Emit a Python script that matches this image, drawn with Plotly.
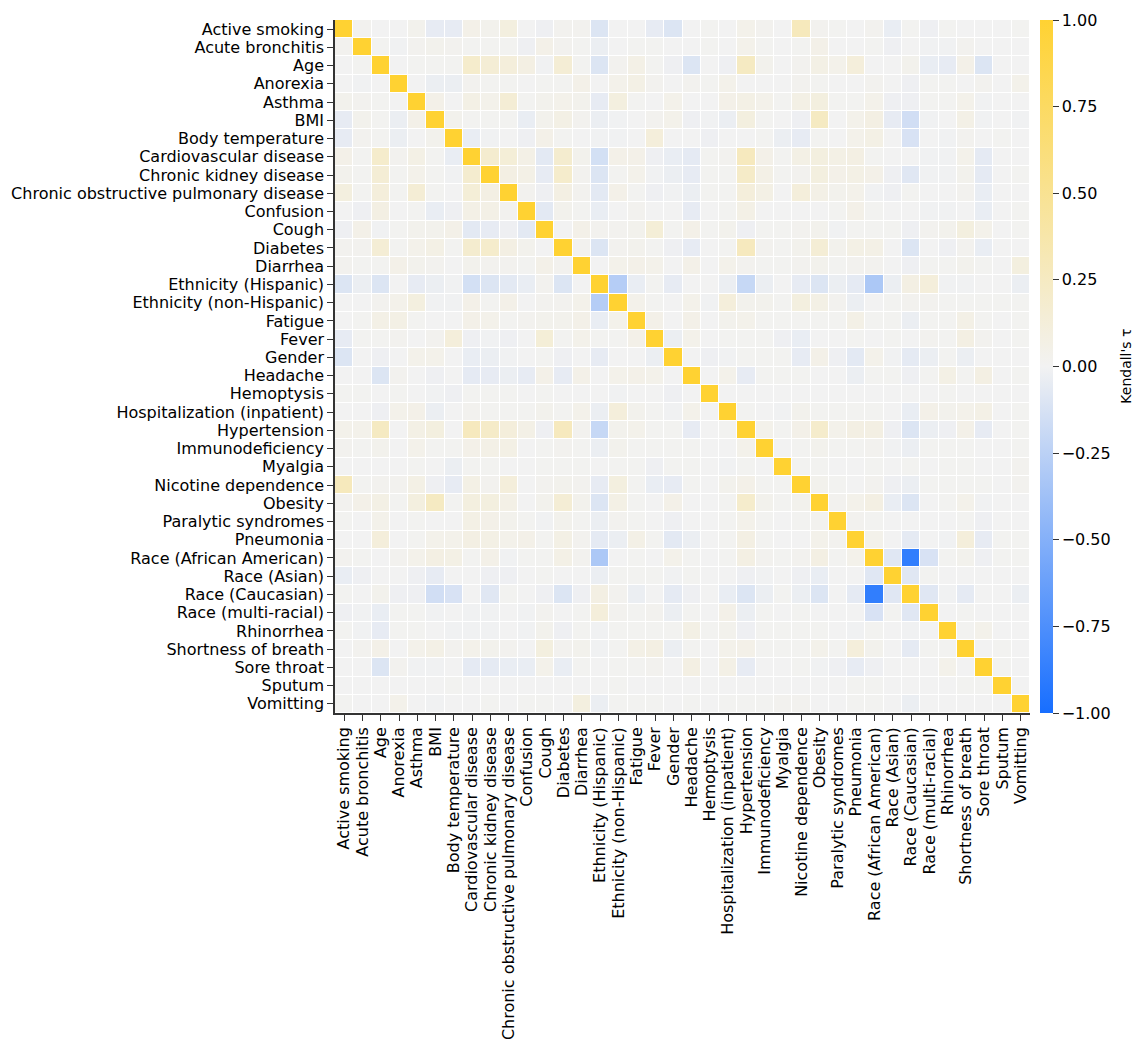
import plotly.graph_objects as go

# Variables shown on both axes
labels = [
    "Active smoking", "Acute bronchitis", "Age", "Anorexia", "Asthma", "BMI",
    "Body temperature", "Cardiovascular disease", "Chronic kidney disease",
    "Chronic obstructive pulmonary disease", "Confusion", "Cough", "Diabetes",
    "Diarrhea", "Ethnicity (Hispanic)", "Ethnicity (non-Hispanic)", "Fatigue",
    "Fever", "Gender", "Headache", "Hemoptysis", "Hospitalization (inpatient)",
    "Hypertension", "Immunodeficiency", "Myalgia", "Nicotine dependence",
    "Obesity", "Paralytic syndromes", "Pneumonia", "Race (African American)",
    "Race (Asian)", "Race (Caucasian)", "Race (multi-racial)", "Rhinorrhea",
    "Shortness of breath", "Sore throat", "Sputum", "Vomitting",
]

# Kendall's tau, lower triangle (row i holds correlations with columns 0..i-1)
tau_lower = [
    [],
    [0.02],
    [0.0, 0.01],
    [0.0, -0.01, 0.0],
    [0.03, 0.02, 0.01, 0.0],
    [-0.05, 0.03, 0.01, -0.03, 0.05],
    [-0.05, 0.02, 0.01, -0.03, 0.0, 0.03],
    [0.05, 0.01, 0.2, 0.02, 0.07, 0.01, -0.04],
    [0.03, 0.01, 0.15, 0.01, 0.04, 0.01, -0.01, 0.18],
    [0.1, 0.01, 0.12, 0.01, 0.15, 0.01, 0.0, 0.14, 0.08],
    [0.0, -0.02, 0.08, 0.0, 0.01, -0.04, -0.02, 0.06, 0.06, 0.02],
    [-0.02, 0.05, -0.01, 0.01, 0.03, 0.03, 0.05, -0.07, -0.05, -0.02, -0.07],
    [0.02, 0.02, 0.15, 0.01, 0.04, 0.07, 0.01, 0.18, 0.2, 0.08, 0.03, 0.0],
    [0.02, 0.01, 0.01, 0.05, 0.03, 0.02, 0.0, 0.03, 0.02, 0.02, 0.01, 0.05, 0.02],
    [-0.1, -0.03, -0.1, 0.0, -0.05, -0.03, -0.01, -0.14, -0.1, -0.07, -0.04, 0.02, -0.1, 0.0],
    [0.0, 0.0, 0.02, 0.04, 0.1, -0.01, -0.01, 0.05, 0.01, 0.05, 0.0, 0.02, 0.02, 0.04, -0.28],
    [0.0, 0.01, 0.06, 0.07, 0.01, 0.0, 0.0, 0.05, 0.04, 0.01, 0.02, 0.03, 0.03, 0.05, -0.04, 0.04],
    [-0.05, 0.01, 0.01, 0.02, 0.0, 0.02, 0.12, -0.02, -0.01, -0.02, 0.0, 0.14, 0.01, 0.04, 0.01, 0.01, 0.05],
    [-0.1, 0.0, -0.02, 0.0, 0.04, 0.04, 0.0, -0.04, -0.03, -0.01, 0.0, 0.01, -0.02, 0.0, -0.05, 0.0, 0.0, -0.03],
    [0.0, 0.0, -0.1, 0.02, 0.0, -0.02, 0.0, -0.06, -0.05, -0.03, -0.05, 0.05, -0.05, 0.05, 0.0, 0.04, 0.05, 0.04, 0.0],
    [0.01, 0.01, 0.0, 0.01, 0.0, -0.01, -0.02, 0.01, 0.01, 0.01, 0.0, 0.01, 0.0, 0.0, 0.0, -0.01, 0.0, 0.0, -0.02, 0.0],
    [0.0, 0.0, -0.02, 0.04, 0.05, -0.03, 0.0, 0.02, 0.01, 0.01, 0.01, 0.03, 0.01, 0.04, -0.03, 0.12, 0.03, 0.01, -0.01, 0.04, 0.0],
    [0.04, 0.04, 0.25, 0.0, 0.07, 0.1, 0.0, 0.27, 0.22, 0.12, 0.06, -0.02, 0.27, 0.02, -0.2, 0.03, 0.04, 0.01, 0.01, -0.05, 0.0, 0.01],
    [0.02, 0.01, 0.03, 0.0, 0.04, 0.01, 0.01, 0.05, 0.06, 0.07, 0.0, 0.01, 0.02, 0.01, -0.03, 0.03, 0.01, 0.01, 0.01, 0.01, 0.0, 0.0, 0.04],
    [0.0, 0.0, 0.0, 0.0, 0.01, 0.0, -0.03, 0.01, 0.01, 0.0, 0.0, 0.01, 0.01, 0.01, 0.0, 0.01, 0.01, -0.02, 0.01, 0.01, 0.0, -0.01, 0.01, 0.0],
    [0.28, 0.01, 0.02, 0.02, 0.07, -0.02, -0.05, 0.07, 0.02, 0.12, 0.0, 0.02, 0.03, 0.02, -0.05, 0.1, 0.01, -0.04, -0.05, 0.01, 0.0, 0.03, 0.05, 0.01, 0.01],
    [0.02, 0.05, 0.07, 0.01, 0.1, 0.25, 0.01, 0.1, 0.1, 0.06, 0.0, 0.03, 0.15, 0.03, -0.1, 0.07, 0.01, 0.0, 0.05, 0.0, 0.0, 0.01, 0.2, 0.03, 0.01, 0.03],
    [0.01, 0.0, 0.04, 0.0, 0.01, 0.0, 0.0, 0.07, 0.05, 0.03, 0.01, -0.01, 0.03, 0.01, -0.03, 0.02, 0.01, 0.0, -0.02, 0.0, 0.0, 0.01, 0.04, 0.01, 0.0, 0.01, 0.02],
    [0.0, 0.0, 0.12, 0.0, 0.01, 0.04, 0.04, 0.08, 0.07, 0.04, 0.05, 0.01, 0.07, 0.02, -0.06, -0.03, 0.06, 0.01, -0.07, -0.03, 0.0, 0.01, 0.08, 0.01, 0.0, 0.0, 0.04, 0.02],
    [0.02, 0.01, 0.0, 0.02, 0.04, 0.08, 0.07, 0.01, 0.05, -0.01, 0.01, 0.01, 0.06, 0.02, -0.32, 0.0, 0.01, 0.0, 0.04, 0.01, 0.0, 0.01, 0.08, 0.02, 0.01, 0.02, 0.08, 0.01, 0.04],
    [-0.04, -0.02, 0.0, 0.0, -0.02, -0.05, 0.0, 0.0, -0.02, -0.02, 0.0, 0.01, 0.0, 0.0, -0.03, 0.01, 0.01, 0.01, -0.01, 0.01, 0.0, 0.0, -0.02, -0.01, 0.0, -0.02, -0.04, 0.0, 0.0, -0.08],
    [0.01, 0.0, 0.03, -0.02, -0.02, -0.15, -0.12, 0.0, -0.08, 0.01, 0.0, -0.02, -0.1, -0.02, 0.08, 0.02, -0.03, 0.0, -0.06, -0.02, 0.0, -0.04, -0.1, -0.03, 0.01, -0.03, -0.1, 0.0, -0.06, -0.88, -0.08],
    [-0.02, -0.01, -0.04, 0.01, 0.01, -0.01, 0.0, -0.01, -0.01, 0.0, -0.01, 0.02, 0.0, 0.01, 0.12, 0.02, 0.01, 0.02, -0.03, 0.01, 0.0, 0.05, -0.03, 0.01, 0.0, 0.01, 0.0, 0.0, 0.0, -0.12, 0.01, -0.08],
    [0.01, -0.01, -0.05, 0.01, 0.01, 0.0, -0.01, -0.01, -0.01, 0.0, -0.01, 0.03, -0.02, 0.01, -0.01, 0.01, 0.01, 0.01, 0.01, 0.07, 0.01, 0.03, -0.02, 0.01, 0.01, 0.01, 0.01, 0.0, -0.01, 0.01, 0.0, -0.01, 0.0],
    [0.0, 0.02, 0.05, 0.0, 0.04, 0.06, 0.02, 0.04, 0.03, 0.02, 0.0, 0.1, 0.02, 0.03, -0.01, 0.01, 0.06, 0.08, -0.03, 0.01, 0.0, 0.04, 0.05, 0.01, 0.01, 0.01, 0.04, 0.01, 0.12, 0.03, 0.0, -0.06, 0.01, 0.01],
    [0.0, 0.0, -0.1, 0.02, -0.01, -0.01, 0.0, -0.06, -0.06, -0.04, -0.04, 0.04, -0.04, 0.01, 0.0, 0.01, 0.01, 0.02, 0.0, 0.08, 0.0, 0.06, -0.05, 0.0, 0.0, 0.01, -0.01, -0.02, -0.05, -0.02, 0.0, 0.0, 0.0, 0.04, 0.0],
    [0.0, 0.0, 0.0, 0.0, 0.0, 0.0, 0.01, 0.0, 0.0, 0.0, 0.0, 0.0, 0.0, 0.0, 0.0, 0.01, 0.0, 0.0, 0.0, 0.0, 0.0, 0.0, 0.0, 0.0, 0.0, 0.0, 0.0, 0.0, 0.01, 0.01, 0.0, 0.0, 0.0, 0.0, 0.01, 0.01],
    [0.01, 0.0, 0.0, 0.04, 0.0, -0.01, 0.0, 0.0, 0.01, 0.0, 0.01, 0.01, 0.0, 0.1, -0.03, 0.01, 0.01, 0.01, 0.0, 0.01, 0.0, 0.01, 0.01, 0.01, 0.02, 0.02, 0.0, 0.0, 0.01, 0.01, 0.0, -0.03, 0.0, 0.0, 0.0, 0.0, 0.0],
]

n = len(labels)
for i, row in enumerate(tau_lower):
    assert len(row) == i, (i, len(row))

# Build the full symmetric matrix with ones on the diagonal
tau = [[1.0] * n for _ in range(n)]
for i, row in enumerate(tau_lower):
    for j, v in enumerate(row):
        tau[i][j] = v
        tau[j][i] = v

colorscale = [
    [0.0, "rgb(23,110,255)"],
    [0.5, "rgb(242,242,242)"],
    [1.0, "rgb(255,210,50)"],
]

font_family = "DejaVu Sans"
tick_size = 16

fig = go.Figure(
    go.Heatmap(
        z=tau,
        x=labels,
        y=labels,
        zmin=-1,
        zmax=1,
        colorscale=colorscale,
        xgap=1,
        ygap=1,
        colorbar=dict(
            tickvals=[-1, -0.75, -0.5, -0.25, 0, 0.25, 0.5, 0.75, 1],
            tickformat=".2f",
            tickfont=dict(size=tick_size, family=font_family, color="black"),
            ticks="outside",
            ticklen=6,
            tickcolor="#333",
            thickness=13,
            len=1,
            lenmode="fraction",
            y=0.5,
            yanchor="middle",
            ypad=0,
            x=1.0,
            xanchor="left",
            xpad=10,
            outlinewidth=0,
        ),
    )
)

# Colorbar label, placed to the right of the tick labels
fig.add_annotation(
    text="Kendall's τ",
    xref="paper", yref="paper",
    x=1.137, y=0.5,
    xanchor="center", yanchor="middle",
    textangle=-90,
    showarrow=False,
    font=dict(size=14, family=font_family, color="black"),
)

axis_common = dict(
    showgrid=False,
    zeroline=False,
    tickmode="array",
    tickvals=labels,
    ticktext=labels,
    ticks="outside",
    ticklen=6,
    tickwidth=1.2,
    tickcolor="#333",
    showline=True,
    linecolor="#333",
    linewidth=1.5,
    tickfont=dict(size=tick_size, family=font_family, color="black"),
    automargin=False,
)

fig.update_xaxes(tickangle=-90, **axis_common)
fig.update_yaxes(autorange="reversed", **axis_common)

fig.update_layout(
    width=1134,
    height=1040,
    margin=dict(l=335, r=104, t=20, b=327),
    paper_bgcolor="white",
    plot_bgcolor="white",
    font=dict(family=font_family, color="black"),
)

fig.write_html("out.html")
